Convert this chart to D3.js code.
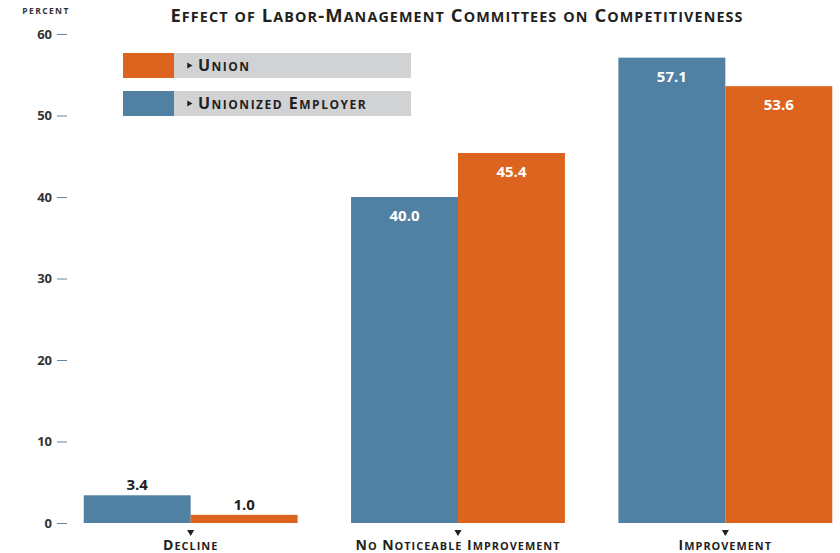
<!DOCTYPE html>
<html>
<head>
<meta charset="utf-8">
<script src="https://cdn.jsdelivr.net/npm/d3@7"></script>
<style>
  body { margin: 0; background: #fff; }
  svg text { font-family: "Open Sans", "DejaVu Sans", sans-serif; }
</style>
</head>
<body>
<svg width="840" height="553"></svg>
<script>
// Data
var categories = ['Decline', 'No Noticeable Improvement', 'Improvement'];
var seriesNames = ['Unionized Employer', 'Union'];
var employerValues = [3.4, 40.0, 57.1];
var unionValues = [1.0, 45.4, 53.6];
var yTicks = [0, 10, 20, 30, 40, 50, 60];

var colors = { 'Unionized Employer': '#5081a2', 'Union': '#dd641e' };

var svg = d3.select('svg');

// fake small caps: capitals full size, lower case letters as smaller capitals
function smallCaps(sel, str, size, ratio) {
    var parts = str.match(/([A-Z\- ]+|[a-z]+)/g) || [];
    parts.forEach(function(p) {
        var lower = /[a-z]/.test(p);
        sel.append('tspan')
            .style('font-size', (lower ? size * ratio : size) + 'px')
            .text(p.toUpperCase());
    });
}

// scales
var x = d3.scaleBand().domain(categories).range([57, 859]).paddingInner(0.2).paddingOuter(0.1);
var xs = d3.scaleBand().domain(seriesNames).range([0, x.bandwidth()]);
var y = d3.scaleLinear().domain([0, 60]).range([523, 34]);

// title
var title = svg.append('text')
    .attr('x', 457).attr('y', 22)
    .attr('text-anchor', 'middle')
    .style('font-weight', 'bold')
    .style('letter-spacing', '1.1px')
    .attr('fill', '#231f20');
smallCaps(title, 'Effect of Labor-Management Committees on Competitiveness', 18.4, 0.78);

svg.append('text')
    .attr('x', 46).attr('y', 14)
    .attr('text-anchor', 'middle')
    .style('font-size', '8.5px')
    .style('font-weight', 'bold')
    .style('letter-spacing', '1.4px')
    .attr('fill', '#333')
    .text('PERCENT');

// y axis
var yAxis = d3.axisLeft(y).tickValues(yTicks).tickSize(10).tickPadding(5);
var yg = svg.append('g').attr('transform', 'translate(67,0)').call(yAxis);
yg.select('.domain').remove();
yg.selectAll('.tick line').attr('stroke', '#5d86a8');
yg.selectAll('.tick text')
    .attr('fill', '#333')
    .style('font-size', '13px')
    .style('font-weight', 'bold')
    .style('font-family', '"Open Sans", sans-serif');

// bars
var rows = categories.map(function(c, i) {
    return { cat: c, vals: [
        { s: 'Unionized Employer', v: employerValues[i] },
        { s: 'Union', v: unionValues[i] }
    ] };
});

var groups = svg.selectAll('g.grp').data(rows).enter()
    .append('g').attr('class', 'grp')
    .attr('transform', function(d) { return 'translate(' + x(d.cat) + ',0)'; });

groups.selectAll('rect').data(function(d) { return d.vals; }).enter()
    .append('rect')
    .attr('x', function(d) { return xs(d.s); })
    .attr('width', xs.bandwidth())
    .attr('y', function(d) { return y(d.v); })
    .attr('height', function(d) { return y(0) - y(d.v); })
    .attr('fill', function(d) { return colors[d.s]; });

groups.selectAll('text.val').data(function(d) { return d.vals; }).enter()
    .append('text').attr('class', 'val')
    .attr('x', function(d) { return xs(d.s) + xs.bandwidth() / 2; })
    .attr('y', function(d) { return d.v > 10 ? y(d.v) + 24 : y(d.v) - 5; })
    .attr('text-anchor', 'middle')
    .style('font-size', '15px')
    .style('font-weight', 'bold')
    .attr('fill', function(d) { return d.v > 10 ? '#fff' : '#231f20'; })
    .text(function(d) { return d.v.toFixed(1); });

// category labels with small triangle markers
groups.append('path')
    .attr('d', d3.symbol().type(d3.symbolTriangle).size(22))
    .attr('transform', 'translate(' + x.bandwidth() / 2 + ',532) rotate(180)')
    .attr('fill', '#231f20');

groups.append('text')
    .attr('x', x.bandwidth() / 2).attr('y', 550)
    .attr('text-anchor', 'middle')
    .style('font-weight', 'bold')
    .style('letter-spacing', '1px')
    .attr('fill', '#231f20')
    .each(function(d) { smallCaps(d3.select(this), d.cat, 14, 0.78); });

// legend
var legendItems = ['Union', 'Unionized Employer'];
var lg = svg.selectAll('g.leg').data(legendItems).enter()
    .append('g').attr('class', 'leg')
    .attr('transform', function(d, i) { return 'translate(123,' + (53 + i * 38) + ')'; });
lg.append('rect').attr('x', 51).attr('width', 237).attr('height', 25).attr('fill', '#d1d2d4');
lg.append('rect').attr('width', 51).attr('height', 25).attr('fill', function(d) { return colors[d]; });
lg.append('path')
    .attr('d', d3.symbol().type(d3.symbolTriangle).size(16))
    .attr('transform', 'translate(66,12.5) rotate(90)')
    .attr('fill', '#231f20');
lg.append('text')
    .attr('x', 75).attr('y', 18)
    .style('font-weight', 'bold')
    .style('letter-spacing', '1.5px')
    .attr('fill', '#231f20')
    .each(function(d) { smallCaps(d3.select(this), d, 16, 0.75); });
</script>
</body>
</html>
